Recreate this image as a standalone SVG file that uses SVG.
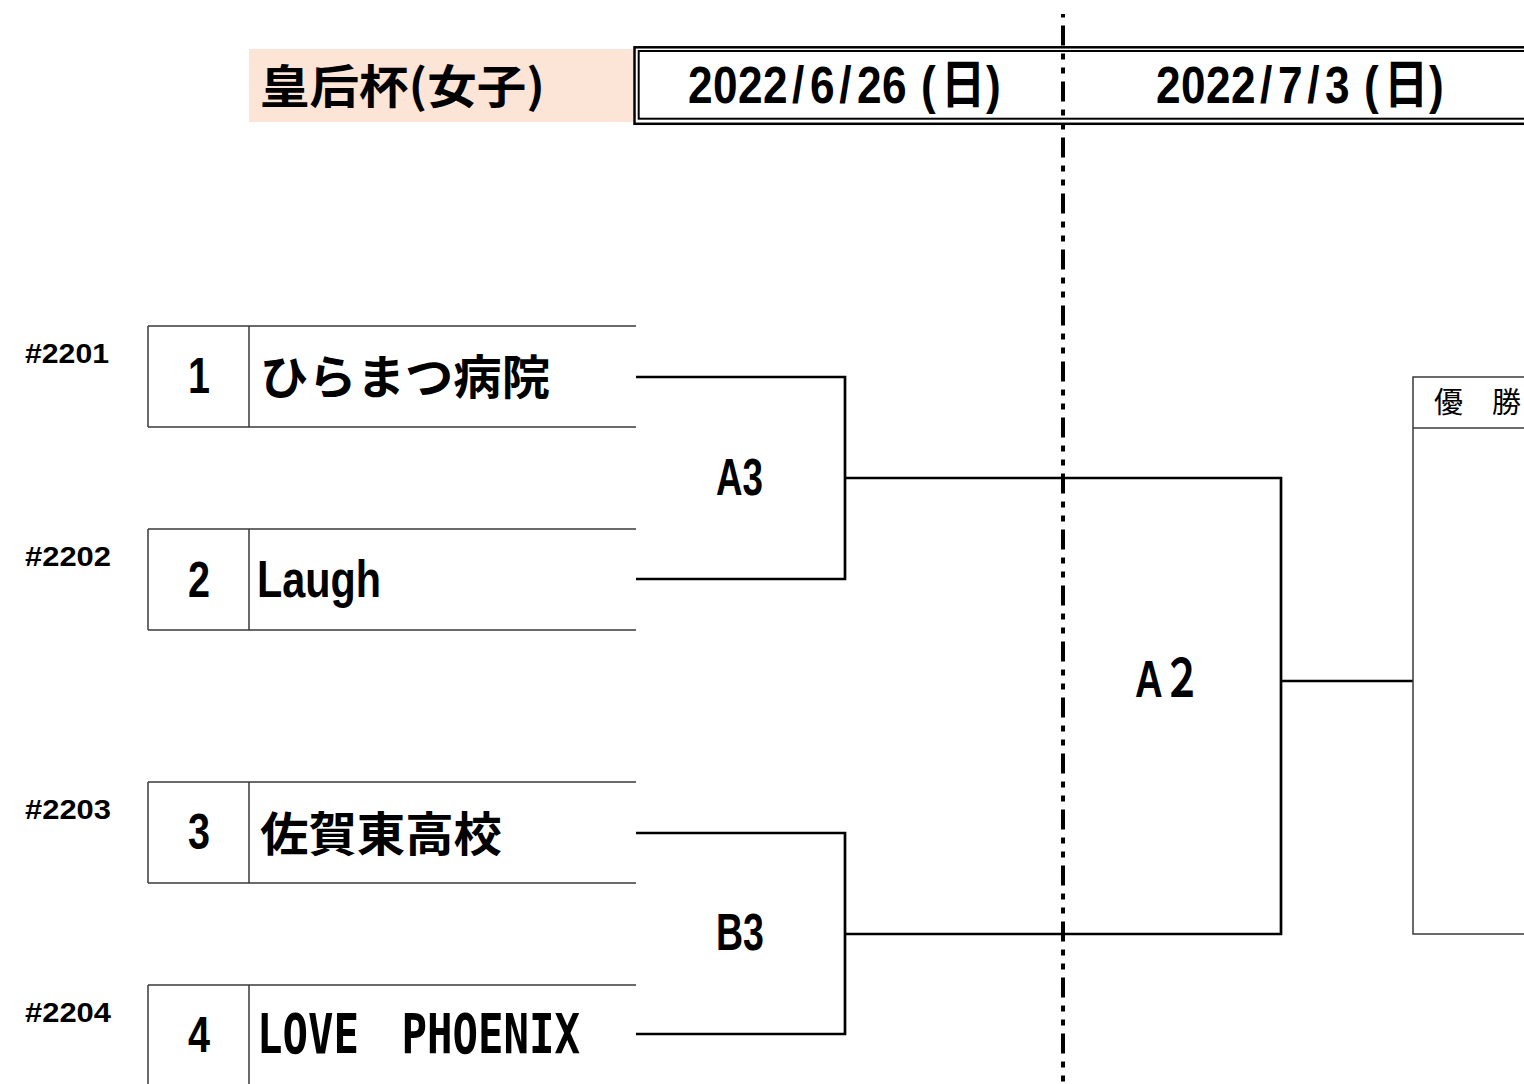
<svg xmlns="http://www.w3.org/2000/svg" width="1524" height="1084" viewBox="0 0 1524 1084">
<style>
.box{fill:none;stroke:#3a3a3a;stroke-width:1.5}
.conn{fill:none;stroke:#000;stroke-width:2.7}
.lat{font-family:"Liberation Sans","Noto Sans CJK JP",sans-serif;font-weight:700;fill:#000}
.jp{font-family:"Noto Sans CJK JP",sans-serif;font-weight:700;fill:#000}
.mono{font-family:"DejaVu Sans Mono","Noto Sans CJK JP",monospace;font-weight:700;fill:#000}
.lbl{font-family:"Liberation Sans",sans-serif;font-weight:700;font-size:27px;fill:#000}
.num{font-family:"Liberation Sans",sans-serif;font-weight:700;font-size:50px;fill:#000}
</style>
<rect width="1524" height="1084" fill="#fff"/>

<g id="title">
  <rect x="249" y="49" width="384" height="73" fill="#FCE4D6"/>
  <text class="jp" x="260" y="103" font-size="46" textLength="285" lengthAdjust="spacingAndGlyphs">皇后杯(女子)</text>
</g>

<g id="date-header">
  <rect x="634.5" y="47.3" width="920" height="76.5" fill="none" stroke="#000" stroke-width="2.5"/>
  <rect x="638.7" y="51" width="920" height="67.7" fill="none" stroke="#000" stroke-width="2"/>
  <text id="date1" class="lat" font-size="52" transform="translate(688,103) scale(0.85,1)" x="0 29.4 58.8 88.2 122.5 143.5 177.8 198.8 228.2 274.1 297.6 350.6" y="0">2022/6/26(日)</text>
  <text id="date2" class="lat" font-size="52" transform="translate(1156,103) scale(0.85,1)" x="0 29.4 58.8 88.2 122.5 143.5 177.8 198.8 244.7 268.2 321.2" y="0">2022/7/3(日)</text>
</g>

<g id="team1">
  <path class="box" d="M148,326 H636 M148,427 H636 M148,326 V427 M249,326 V427"/>
  <text class="lbl" x="25" y="363" textLength="84" lengthAdjust="spacingAndGlyphs">#2201</text>
  <text class="num" x="188" y="393" textLength="22" lengthAdjust="spacingAndGlyphs">1</text>
  <text class="jp" x="260" y="394" font-size="47" textLength="290" lengthAdjust="spacingAndGlyphs">ひらまつ病院</text>
</g>

<g id="team2">
  <path class="box" d="M148,529 H636 M148,630 H636 M148,529 V630 M249,529 V630"/>
  <text class="lbl" x="25" y="566" textLength="86" lengthAdjust="spacingAndGlyphs">#2202</text>
  <text class="num" x="188" y="597" textLength="22" lengthAdjust="spacingAndGlyphs">2</text>
  <text class="lat" x="257" y="597" font-size="52" textLength="124" lengthAdjust="spacingAndGlyphs">Laugh</text>
</g>

<g id="team3">
  <path class="box" d="M148,782 H636 M148,883 H636 M148,782 V883 M249,782 V883"/>
  <text class="lbl" x="25" y="819" textLength="86" lengthAdjust="spacingAndGlyphs">#2203</text>
  <text class="num" x="188" y="849" textLength="22" lengthAdjust="spacingAndGlyphs">3</text>
  <text class="jp" x="260" y="851" font-size="47" textLength="242" lengthAdjust="spacingAndGlyphs">佐賀東高校</text>
</g>

<g id="team4">
  <path class="box" d="M148,985 H636 M148,985 V1090 M249,985 V1090"/>
  <text class="lbl" x="25" y="1022" textLength="86" lengthAdjust="spacingAndGlyphs">#2204</text>
  <text class="num" x="188" y="1052" textLength="22" lengthAdjust="spacingAndGlyphs">4</text>
  <text class="mono" x="257" y="1053" font-size="55" textLength="323" lengthAdjust="spacingAndGlyphs">LOVE　PHOENIX</text>
</g>

<g id="connectors">
  <path class="conn" d="M636,377 H845 V579 H636"/>
  <path class="conn" d="M636,833 H845 V1034 H636"/>
  <path class="conn" d="M845,478 H1281 V934 H845"/>
  <path class="conn" d="M1281,681 H1413"/>
</g>

<g id="match-A3">
  <text class="lat" x="716" y="495" font-size="52" textLength="47" lengthAdjust="spacingAndGlyphs">A3</text>
</g>
<g id="match-B3">
  <text class="lat" x="716" y="950" font-size="52" textLength="48" lengthAdjust="spacingAndGlyphs">B3</text>
</g>
<g id="match-A2">
  <text class="lat" x="1135" y="697" font-size="52" textLength="66" lengthAdjust="spacingAndGlyphs">A２</text>
</g>

<g id="winner">
  <rect x="1413" y="377" width="150" height="557" fill="none" stroke="#3a3a3a" stroke-width="1.5"/>
  <path class="box" d="M1413,428 H1530"/>
  <text x="1434" y="413" font-family="'Noto Sans CJK JP',sans-serif" font-size="29" fill="#000">優　勝</text>
</g>

<g id="day-divider">
  <line x1="1063" y1="14" x2="1063" y2="1084" stroke="#000" stroke-width="4" stroke-dasharray="20 8 6 8 6 8" stroke-dashoffset="44.5"/>
</g>
</svg>
